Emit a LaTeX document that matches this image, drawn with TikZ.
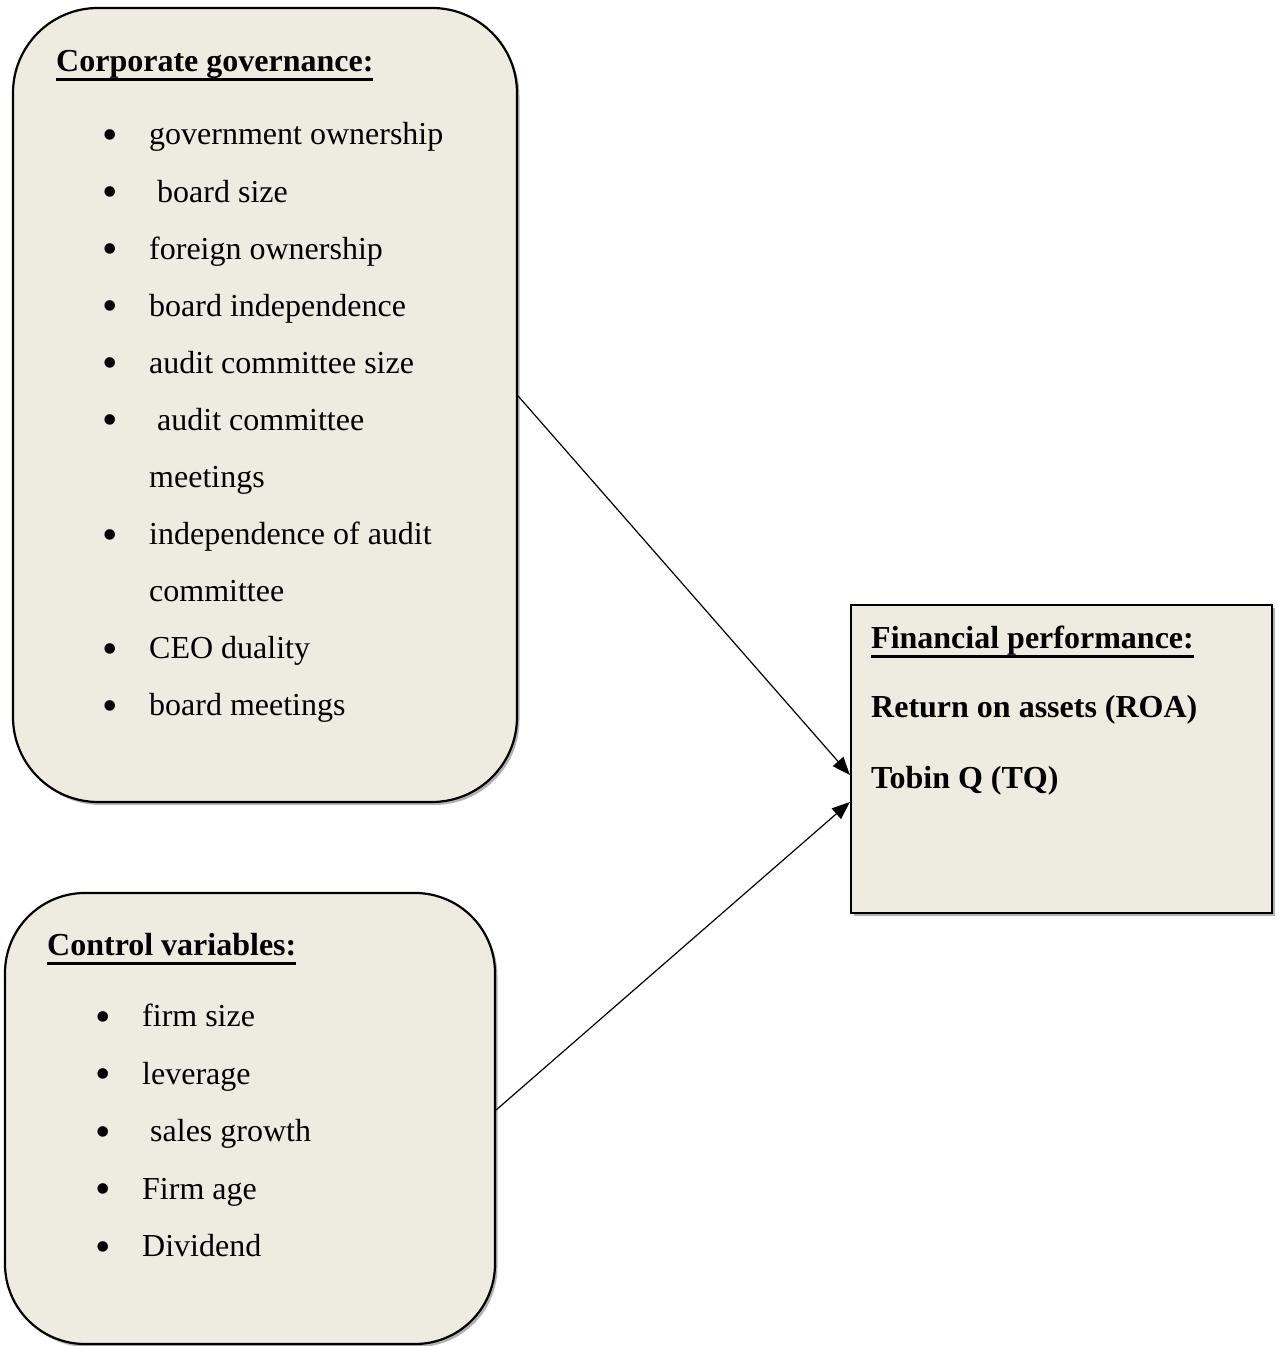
\documentclass[tikz,border=0pt]{standalone}
\usepackage{fontspec}
\setmainfont{Liberation Serif}
\usepackage{xcolor}
\usepackage{tikz}
\usetikzlibrary{arrows.meta, positioning, shadows}
\definecolor{FPBeige}{RGB}{238, 236, 225}
\definecolor{FPBorder}{RGB}{0, 0, 0}
\newcommand{\listbul}{\makebox[46.6pt][l]{\raisebox{-4.5pt}{\fontsize{44}{44}\selectfont\textbullet}}}
\newcommand{\listskip}{\hspace*{46.6pt}}
\newcommand{\fphead}[1]{\setbox0=\hbox{\bfseries #1}\rlap{\rule[-9pt]{\wd0}{2.8pt}}\box0}

\begin{document}
\begin{tikzpicture}[
    x=1pt, y=1pt,
    boxbase/.style={fill=FPBeige, draw=FPBorder, line width=2.2pt, inner sep=0pt,
      drop shadow={shadow xshift=2.5pt, shadow yshift=-3pt, opacity=0.3, fill=black}},
    roundbox/.style={boxbase, rounded corners=85pt},
    squarebox/.style={boxbase},
    itemtext/.style={anchor=base west, inner sep=0pt, font=\fontsize{32}{38}\selectfont},
    boldtext/.style={itemtext, font=\fontsize{32}{38}\selectfont\bfseries},
    flowarrow/.style={line width=1.2pt, -{Triangle[length=18pt, width=14pt]}}
  ]
    \useasboundingbox (0,0) rectangle (1279,1346);

    \node[roundbox, minimum width=504pt, minimum height=794pt] (cg) at (265,941) {};
    \node[roundbox, rounded corners=80pt, minimum width=490pt, minimum height=451pt] (cv) at (250,227.5) {};
    \node[squarebox, minimum width=421pt, minimum height=308pt] (fp) at (1061.5,587) {};

    \node[boldtext] (cghead) at (56,1274) {\fphead{Corporate governance:}};
    \foreach \lbl [count=\i from 0] in {
        {\listbul government ownership},
        {\listbul\ board size},
        {\listbul foreign ownership},
        {\listbul board independence},
        {\listbul audit committee size},
        {\listbul\ audit committee},
        {\listskip meetings},
        {\listbul independence of audit},
        {\listskip committee},
        {\listbul CEO duality},
        {\listbul board meetings}}
      \node[itemtext] (cg\i) at (102.4,1201-57.1*\i) {\lbl};

    \node[boldtext] (cvhead) at (47,390) {\fphead{Control variables:}};
    \foreach \lbl [count=\i from 0] in {
        {\listbul firm size},
        {\listbul leverage},
        {\listbul\ sales growth},
        {\listbul Firm age},
        {\listbul Dividend}}
      \node[itemtext] (cv\i) at (95.4,319-57.5*\i) {\lbl};

    \node[boldtext] (fphead) at (871,697) {\fphead{Financial performance:}};
    \node[boldtext] (roa) at (871,628) {Return on assets (ROA)};
    \node[boldtext] (tq) at (871,557) {Tobin Q (TQ)};

    \draw[flowarrow] ([yshift=9pt]cg.east) -- ([yshift=-16pt]fp.west);
    \draw[flowarrow] ([yshift=8.5pt]cv.east) -- ([yshift=-43pt]fp.west);
  \end{tikzpicture}
\end{document}
